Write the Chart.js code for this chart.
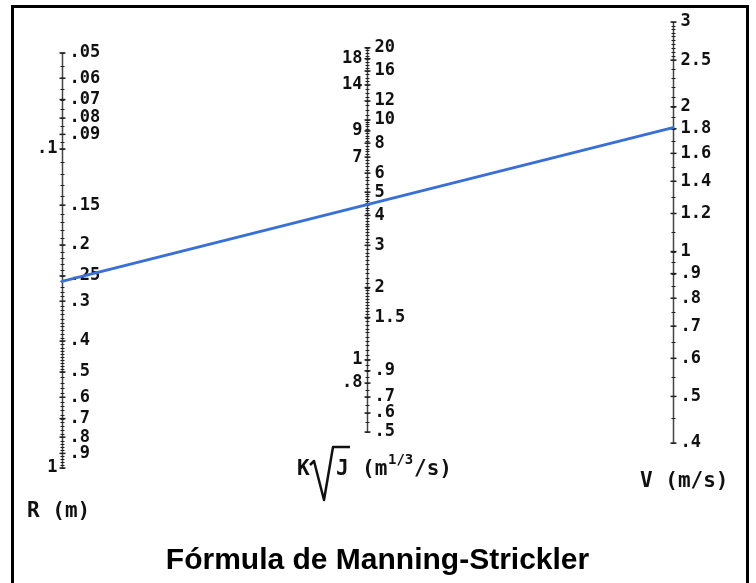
<!DOCTYPE html>
<html lang="es">
<head>
  <meta charset="UTF-8">
  <title>Fórmula de Manning-Strickler</title>
  <script src="https://cdn.jsdelivr.net/npm/chart.js"></script>
  <style>
    body {
      margin: 0;
      background: #ffffff;
    }
    .chart-container {
      position: relative;
      width: 756px;
      height: 583px;
    }
  </style>
</head>
<body>
  <div class="chart-container">
    <canvas id="nomogram"></canvas>
  </div>

  <script>
    // Column of each scale on the x axis: R, K*sqrt(J), V
    const columns = [0, 1, 2];

    // R (m) scale labels
    const rLabelsRight = [0.05, 0.06, 0.07, 0.08, 0.09, 0.15, 0.2, 0.25, 0.3, 0.4, 0.5, 0.6, 0.7, 0.8, 0.9];
    const rLabelsLeft = [0.1, 1];
    const rMinorSteps = [[0.05, 0.1, 0.005], [0.1, 0.5, 0.01], [0.5, 1, 0.02]];

    // K sqrt(J) scale labels
    const kLabelsRight = [20, 16, 12, 10, 8, 6, 5, 4, 3, 2, 1.5, 0.9, 0.7, 0.6, 0.5];
    const kLabelsLeft = [18, 14, 9, 7, 1, 0.8];
    const kMinorSteps = [[0.5, 1, 0.05], [1, 2, 0.05], [2, 5, 0.1], [5, 10, 0.2], [10, 20, 0.5]];

    // V (m/s) scale labels
    const vLabelsRight = [3, 2.5, 2, 1.8, 1.6, 1.4, 1.2, 1, 0.9, 0.8, 0.7, 0.6, 0.5, 0.4];
    const vLabelsLeft = [];
    const vMinorSteps = [[0.4, 1, 0.05], [1, 2.5, 0.1], [2.5, 3, 0.05]];

    // The example solution line: R -> K sqrt(J) -> V
    const solutionR = 0.26;
    const solutionV = 1.81;

    const fmt = v => v < 1 ? String(v).replace('0.', '.') : String(v);

    const nomogramPlugin = {
      id: 'nomogram',
      beforeDraw(chart) {
        const { ctx, width, height } = chart;
        ctx.save();
        ctx.fillStyle = '#ffffff';
        ctx.fillRect(0, 0, width, height);
        ctx.restore();
      },
      afterDraw(chart) {
        const { ctx } = chart;
        const xs = chart.scales.x;

        function drawScale(scale, col, minorSteps, right, left) {
          const x = Math.round(xs.getPixelForValue(col)) + 0.5;
          const all = right.concat(left);
          const lo = Math.min(...all), hi = Math.max(...all);
          ctx.save();
          // axis line
          ctx.strokeStyle = '#444';
          ctx.lineWidth = 1.5;
          ctx.beginPath();
          ctx.moveTo(x, scale.getPixelForValue(lo));
          ctx.lineTo(x, scale.getPixelForValue(hi));
          ctx.stroke();
          // minor ticks
          ctx.strokeStyle = '#222';
          ctx.lineWidth = 1;
          minorSteps.forEach(([a, b, s]) => {
            const n = Math.round((b - a) / s);
            for (let i = 0; i <= n; i++) {
              const y = Math.round(scale.getPixelForValue(a + i * s)) + 0.5;
              ctx.beginPath();
              ctx.moveTo(x - 2, y);
              ctx.lineTo(x + 2, y);
              ctx.stroke();
            }
          });
          // major ticks and labels
          ctx.lineWidth = 1.5;
          ctx.fillStyle = '#111';
          ctx.font = 'bold 17px "DejaVu Sans Mono"';
          ctx.textBaseline = 'middle';
          right.forEach(v => {
            const y = scale.getPixelForValue(v);
            ctx.beginPath();
            ctx.moveTo(x - 3, y);
            ctx.lineTo(x + 3, y);
            ctx.stroke();
            ctx.textAlign = 'left';
            ctx.fillText(fmt(v), x + 7, y);
          });
          left.forEach(v => {
            const y = scale.getPixelForValue(v);
            ctx.beginPath();
            ctx.moveTo(x - 3, y);
            ctx.lineTo(x + 3, y);
            ctx.stroke();
            ctx.textAlign = 'right';
            ctx.fillText(fmt(v), x - 5, y);
          });
          ctx.restore();
        }

        drawScale(chart.scales.yR, columns[0], rMinorSteps, rLabelsRight, rLabelsLeft);
        drawScale(chart.scales.yK, columns[1], kMinorSteps, kLabelsRight, kLabelsLeft);
        drawScale(chart.scales.yV, columns[2], vMinorSteps, vLabelsRight, vLabelsLeft);

        // solution line
        ctx.save();
        ctx.strokeStyle = '#3a6fd6';
        ctx.lineWidth = 3;
        ctx.lineCap = 'round';
        ctx.beginPath();
        ctx.moveTo(xs.getPixelForValue(columns[0]), chart.scales.yR.getPixelForValue(solutionR));
        ctx.lineTo(xs.getPixelForValue(columns[2]), chart.scales.yV.getPixelForValue(solutionV));
        ctx.stroke();
        ctx.restore();

        // axis titles
        ctx.save();
        ctx.fillStyle = '#111';
        ctx.strokeStyle = '#111';
        ctx.textBaseline = 'middle';
        ctx.textAlign = 'left';
        ctx.font = 'bold 21px "DejaVu Sans Mono"';
        ctx.fillText('R (m)', 27, 512);
        ctx.fillText('V (m/s)', 640, 482);
        ctx.fillText('K', 297, 470);
        ctx.lineWidth = 2.5;
        ctx.lineJoin = 'round';
        ctx.beginPath();
        ctx.moveTo(310, 465);
        ctx.lineTo(314, 461);
        ctx.lineTo(324, 500);
        ctx.lineTo(333, 447);
        ctx.lineTo(350, 447);
        ctx.stroke();
        ctx.fillText('J', 336, 470);
        ctx.fillText('(m', 362, 470);
        ctx.font = 'bold 14px "DejaVu Sans Mono"';
        ctx.fillText('1/3', 388, 460);
        ctx.font = 'bold 21px "DejaVu Sans Mono"';
        ctx.fillText('/s)', 414, 470);
        ctx.restore();

        // frame
        ctx.save();
        ctx.strokeStyle = '#000';
        ctx.lineWidth = 3;
        ctx.strokeRect(12.5, 6.5, 735, 590);
        ctx.restore();
      }
    };

    const ctx = document.getElementById('nomogram').getContext('2d');
    new Chart(ctx, {
      type: 'scatter',
      data: { datasets: [] },
      options: {
        responsive: true,
        maintainAspectRatio: false,
        animation: false,
        layout: {
          padding: { left: 40, right: 41, top: 22, bottom: 0 }
        },
        plugins: {
          legend: { display: false },
          tooltip: { enabled: false },
          title: {
            display: true,
            position: 'bottom',
            text: 'Fórmula de Manning-Strickler',
            color: '#000',
            font: { family: '"Liberation Sans", Arial, sans-serif', size: 30, weight: 'bold' },
            padding: { top: 75, bottom: 4 }
          }
        },
        scales: {
          x: { type: 'linear', min: -0.072, max: 2.1375, display: false },
          yR: { type: 'logarithmic', axis: 'y', reverse: true, min: 0.04, max: 1, display: false },
          yK: { type: 'logarithmic', axis: 'y', min: 0.354, max: 25.6, display: false },
          yV: { type: 'logarithmic', axis: 'y', min: 0.355, max: 3, display: false }
        }
      },
      plugins: [nomogramPlugin]
    });
  </script>
</body>
</html>
